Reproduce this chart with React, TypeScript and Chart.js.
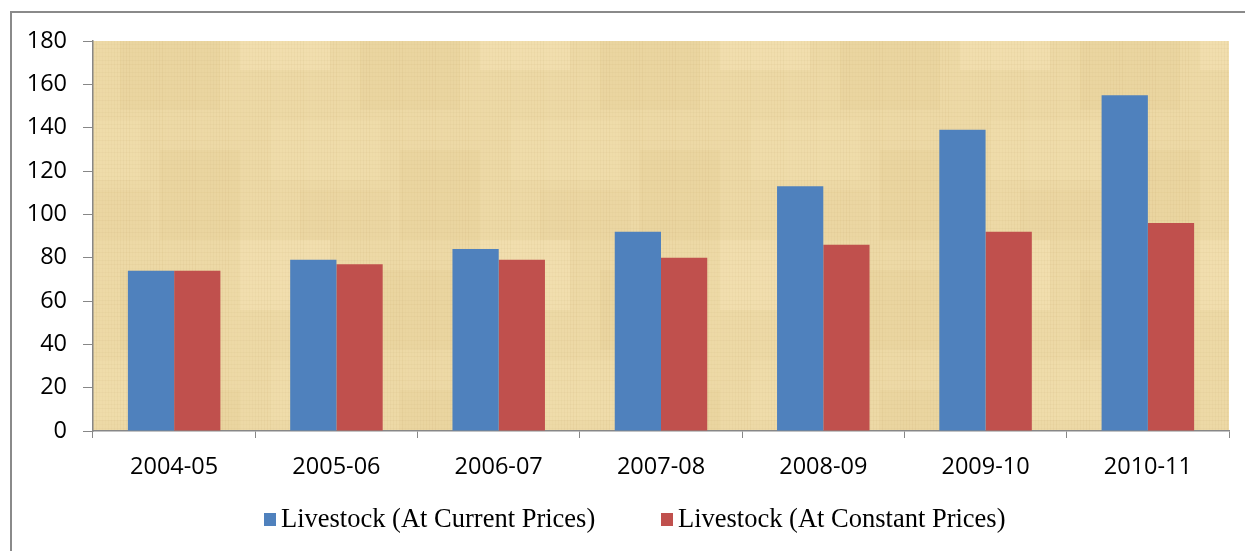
import React, { useEffect, useRef } from "react";
import { Chart, registerables } from "chart.js";

Chart.register(...registerables);

const categories = ["2004-05", "2005-06", "2006-07", "2007-08", "2008-09", "2009-10", "2010-11"];
const currentPrices = [74, 79, 84, 92, 113, 139, 155];
const constantPrices = [74, 77, 79, 80, 86, 92, 96];
const yTickValues = [0, 20, 40, 60, 80, 100, 120, 140, 160, 180];
const seriesLabels = ["Livestock (At Current Prices)", "Livestock (At Constant Prices)"];
const seriesColors = ["#4F81BD", "#C0504D"];

const AXIS_COLOR = "#878787";
const TICK_FONT = { family: "'Open Sans', sans-serif", size: 23.5 };

function makePapyrusPattern(ctx: CanvasRenderingContext2D): CanvasPattern | string {
  const c = document.createElement("canvas");
  c.width = 240;
  c.height = 240;
  const g = c.getContext("2d");
  if (!g) return "#EDD9A6";
  g.fillStyle = "#EDD9A6";
  g.fillRect(0, 0, 240, 240);
  const patches = [
    [0, 0, 90, 70, "rgba(248,232,188,0.35)"],
    [120, 30, 100, 80, "rgba(222,196,135,0.18)"],
    [30, 120, 110, 60, "rgba(246,228,180,0.3)"],
    [160, 150, 80, 90, "rgba(218,190,128,0.16)"],
    [60, 190, 90, 50, "rgba(226,202,145,0.18)"],
  ] as const;
  patches.forEach(([x, y, w, h, col]) => {
    g.fillStyle = col;
    g.fillRect(x, y, w, h);
  });
  for (let i = 0; i < 240; i += 3) {
    const a = 0.02 + 0.05 * (((i * 37) % 11) / 11);
    g.strokeStyle = `rgba(170,130,65,${a.toFixed(3)})`;
    g.lineWidth = 1;
    g.beginPath();
    g.moveTo(i + 0.5, 0);
    g.lineTo(i + 0.5, 240);
    g.stroke();
  }
  for (let j = 0; j < 240; j += 4) {
    const a = 0.02 + 0.04 * (((j * 53) % 13) / 13);
    g.strokeStyle = `rgba(170,130,65,${a.toFixed(3)})`;
    g.beginPath();
    g.moveTo(0, j + 0.5);
    g.lineTo(240, j + 0.5);
    g.stroke();
  }
  return ctx.createPattern(c, "repeat") || "#EDD9A6";
}

const plotBackground = {
  id: "plotBackground",
  beforeDraw(chart: any) {
    const { ctx, chartArea } = chart;
    if (!chartArea) return;
    ctx.save();
    ctx.fillStyle = makePapyrusPattern(ctx);
    ctx.fillRect(chartArea.left, chartArea.top, chartArea.right - chartArea.left, chartArea.bottom - chartArea.top);
    ctx.restore();
  },
};

export default function App() {
  const canvasRef = useRef<HTMLCanvasElement | null>(null);

  useEffect(() => {
    const canvas = canvasRef.current;
    if (!canvas) return;
    const chart = new Chart(canvas, {
      type: "bar",
      data: {
        labels: categories,
        datasets: [
          {
            label: seriesLabels[0],
            data: currentPrices,
            backgroundColor: seriesColors[0],
            borderWidth: 0,
            barPercentage: 1,
            categoryPercentage: 0.57,
          },
          {
            label: seriesLabels[1],
            data: constantPrices,
            backgroundColor: seriesColors[1],
            borderWidth: 0,
            barPercentage: 1,
            categoryPercentage: 0.57,
          },
        ],
      },
      options: {
        animation: false,
        responsive: false,
        maintainAspectRatio: false,
        layout: { padding: { top: 41, right: 16, bottom: 0, left: 0 } },
        plugins: {
          legend: { display: false },
          title: { display: false },
          tooltip: { enabled: false },
        },
        scales: {
          x: {
            offset: true,
            grid: {
              display: true,
              offset: true,
              drawOnChartArea: false,
              drawTicks: true,
              tickLength: 7,
              color: AXIS_COLOR,
              lineWidth: 1,
            },
            border: { display: true, color: AXIS_COLOR, width: 1.5 },
            ticks: { color: "#000", font: TICK_FONT, padding: 15, maxRotation: 0, autoSkip: false },
            afterFit: (scale: any) => {
              scale.height = 120;
            },
          },
          y: {
            min: 0,
            max: 180,
            afterBuildTicks: (scale: any) => {
              scale.ticks = yTickValues.map((v) => ({ value: v }));
            },
            grid: {
              display: true,
              drawOnChartArea: false,
              drawTicks: true,
              tickLength: 10,
              color: AXIS_COLOR,
              lineWidth: 1,
            },
            border: { display: true, color: AXIS_COLOR, width: 1.5 },
            ticks: { color: "#000", font: TICK_FONT, padding: 16 },
            afterFit: (scale: any) => {
              scale.width = 93;
            },
          },
        },
      },
      plugins: [plotBackground],
    });
    return () => chart.destroy();
  }, []);

  const legendLefts = [264, 661];

  return (
    <div
      style={{
        position: "fixed",
        left: 0,
        top: 0,
        width: 1245,
        height: 551,
        overflow: "hidden",
        background: "#fff",
      }}
    >
      <div
        style={{
          position: "absolute",
          left: 10,
          top: 11,
          width: 1400,
          height: 700,
          border: "2px solid #8a8a8a",
          boxSizing: "border-box",
        }}
      />
      <canvas
        ref={canvasRef}
        width={1245}
        height={551}
        style={{ position: "absolute", left: 0, top: 0, width: 1245, height: 551 }}
      />
      {seriesLabels.map((label, i) => (
        <div key={label} style={{ position: "absolute", left: legendLefts[i], top: 503, height: 30 }}>
          <div
            style={{
              position: "absolute",
              left: 0,
              top: 10,
              width: 12,
              height: 13,
              background: seriesColors[i],
            }}
          />
          <span
            style={{
              position: "absolute",
              left: 17,
              top: 0,
              whiteSpace: "nowrap",
              fontFamily: "'Liberation Serif', 'Times New Roman', serif",
              fontSize: 26.5,
              lineHeight: "30px",
              color: "#000",
            }}
          >
            {label}
          </span>
        </div>
      ))}
    </div>
  );
}
